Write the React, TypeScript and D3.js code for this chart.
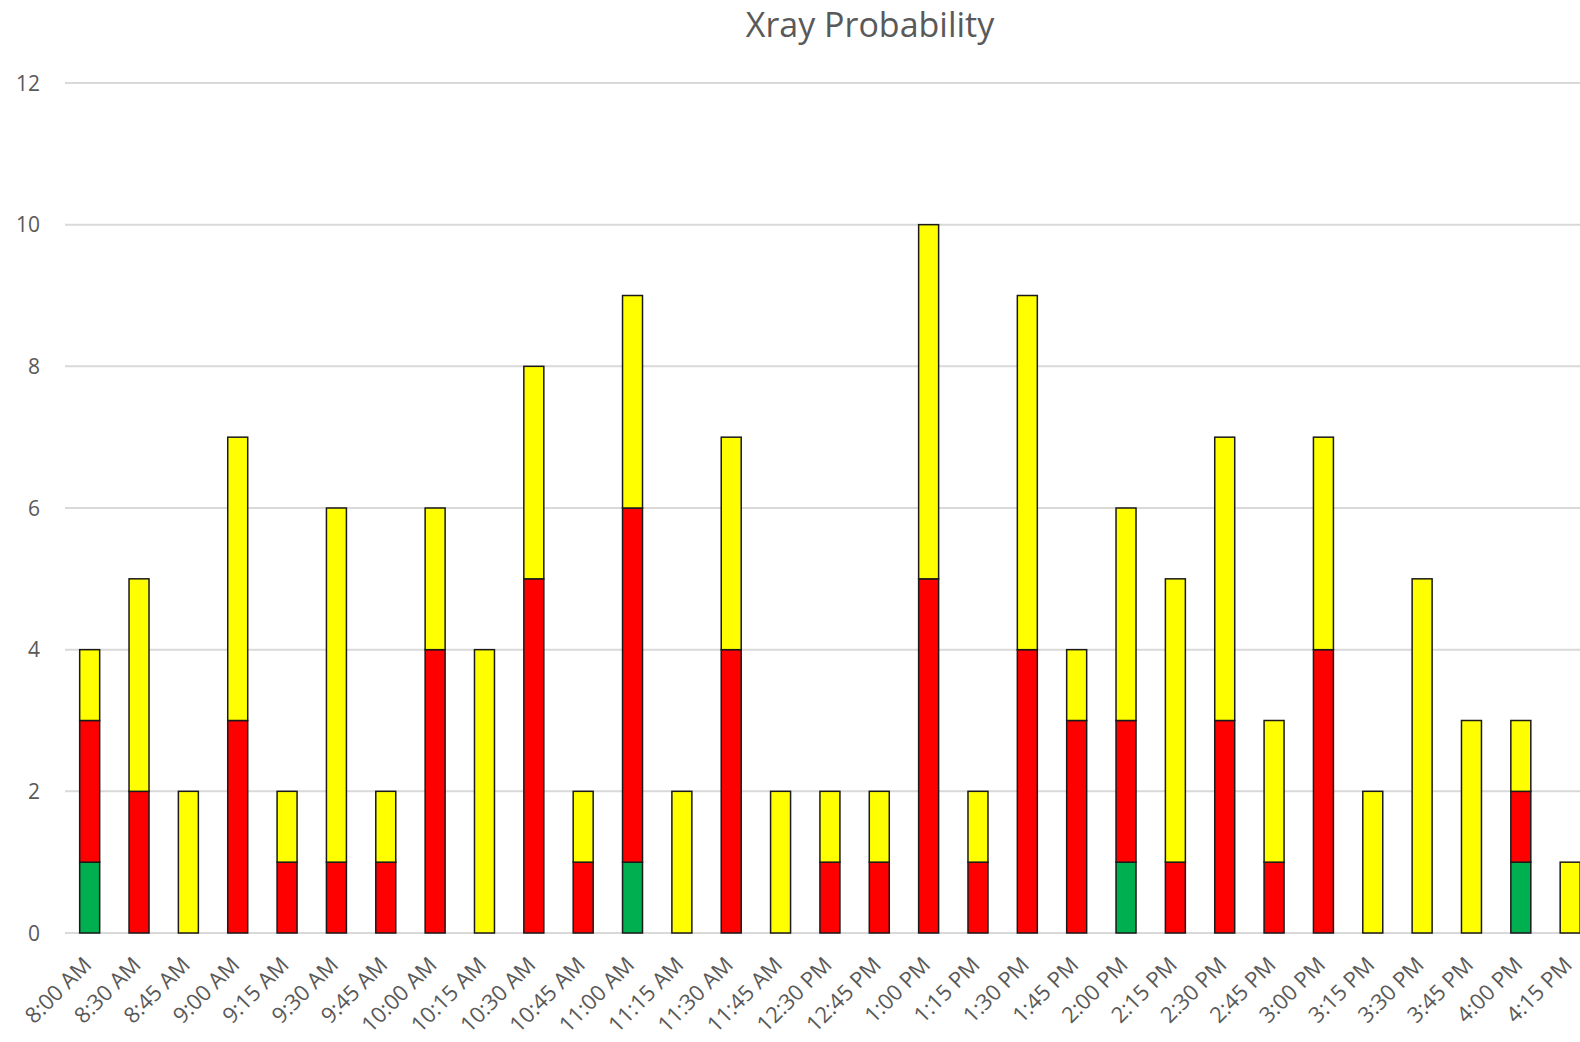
import { useEffect, useRef } from 'react'
import * as d3 from 'd3'

const WIDTH = 1580
const HEIGHT = 1042

const times = [
  '8:00 AM', '8:30 AM', '8:45 AM', '9:00 AM', '9:15 AM', '9:30 AM', '9:45 AM',
  '10:00 AM', '10:15 AM', '10:30 AM', '10:45 AM', '11:00 AM', '11:15 AM', '11:30 AM',
  '11:45 AM', '12:30 PM', '12:45 PM', '1:00 PM', '1:15 PM', '1:30 PM', '1:45 PM',
  '2:00 PM', '2:15 PM', '2:30 PM', '2:45 PM', '3:00 PM', '3:15 PM', '3:30 PM',
  '3:45 PM', '4:00 PM', '4:15 PM',
]
const green = [1, 0, 0, 0, 0, 0, 0, 0, 0, 0, 0, 1, 0, 0, 0, 0, 0, 0, 0, 0, 0, 1, 0, 0, 0, 0, 0, 0, 0, 1, 0]
const red = [2, 2, 0, 3, 1, 1, 1, 4, 0, 5, 1, 5, 0, 4, 0, 1, 1, 5, 1, 4, 3, 2, 1, 3, 1, 4, 0, 0, 0, 1, 0]
const yellow = [1, 3, 2, 4, 1, 5, 1, 2, 4, 3, 1, 3, 2, 3, 2, 1, 1, 5, 1, 5, 1, 3, 4, 4, 2, 3, 2, 5, 3, 1, 1]
const yTicks = [0, 2, 4, 6, 8, 10, 12]

const seriesKeys = ['green', 'red', 'yellow']
const seriesColors = ['#00b050', '#ff0000', '#ffff00']

export default function App() {
  const svgRef = useRef<SVGSVGElement | null>(null)

  useEffect(() => {
    document.body.style.margin = '0'
    const svg = d3.select(svgRef.current)
    svg.selectAll('*').remove()

    const fontFam = '"Open Sans", "Noto Sans", sans-serif'
    const x0 = 65
    const step = 49.35
    const x = d3.scaleBand<string>()
      .domain(times)
      .range([x0, x0 + step * times.length])
      .paddingInner(0.595)
      .paddingOuter(0.2975)
    const y = d3.scaleLinear().domain([0, 12]).range([933, 83])

    // title
    svg.append('text')
      .attr('x', 870)
      .attr('y', 37)
      .attr('text-anchor', 'middle')
      .attr('font-family', fontFam)
      .attr('font-size', 34)
      .attr('fill', '#595959')
      .text('Xray Probability')

    // gridlines
    svg.append('g')
      .selectAll('line')
      .data(yTicks)
      .enter()
      .append('line')
      .attr('x1', x0)
      .attr('x2', WIDTH)
      .attr('y1', (d: any) => y(d))
      .attr('y2', (d: any) => y(d))
      .attr('stroke', '#d9d9d9')
      .attr('stroke-width', 2)

    svg.append('g')
      .selectAll('text')
      .data(yTicks)
      .enter()
      .append('text')
      .attr('x', 40)
      .attr('y', (d: any) => y(d))
      .attr('dy', '0.36em')
      .attr('text-anchor', 'end')
      .attr('font-family', fontFam)
      .attr('font-size', 21)
      .attr('fill', '#595959')
      .text((d: any) => d)

    // stacked bars
    const rows = times.map((t, i) => ({ time: t, green: green[i], red: red[i], yellow: yellow[i] }))
    const stacked = d3.stack<any>().keys(seriesKeys)(rows)
    stacked.forEach((layer: any, li: number) => {
      svg.append('g')
        .selectAll('rect')
        .data(layer.filter((d: any) => d[1] - d[0] > 0))
        .enter()
        .append('rect')
        .attr('x', (d: any) => x(d.data.time) as number)
        .attr('width', x.bandwidth())
        .attr('y', (d: any) => y(d[1]))
        .attr('height', (d: any) => y(d[0]) - y(d[1]))
        .attr('fill', seriesColors[li])
        .attr('stroke', '#1a1a1a')
        .attr('stroke-width', 1.5)
    })

    // category labels
    svg.append('g')
      .selectAll('text')
      .data(times)
      .enter()
      .append('text')
      .attr('transform', (d: any) => `translate(${(x(d) as number) + x.bandwidth() / 2 - 8},${955}) rotate(-45)`)
      .attr('text-anchor', 'end')
      .attr('dy', '0.72em')
      .attr('font-family', fontFam)
      .attr('font-size', 22)
      .attr('fill', '#595959')
      .text((d: any) => d)
  }, [])

  return <svg ref={svgRef} width={WIDTH} height={HEIGHT} style={{ display: 'block' }}></svg>
}
